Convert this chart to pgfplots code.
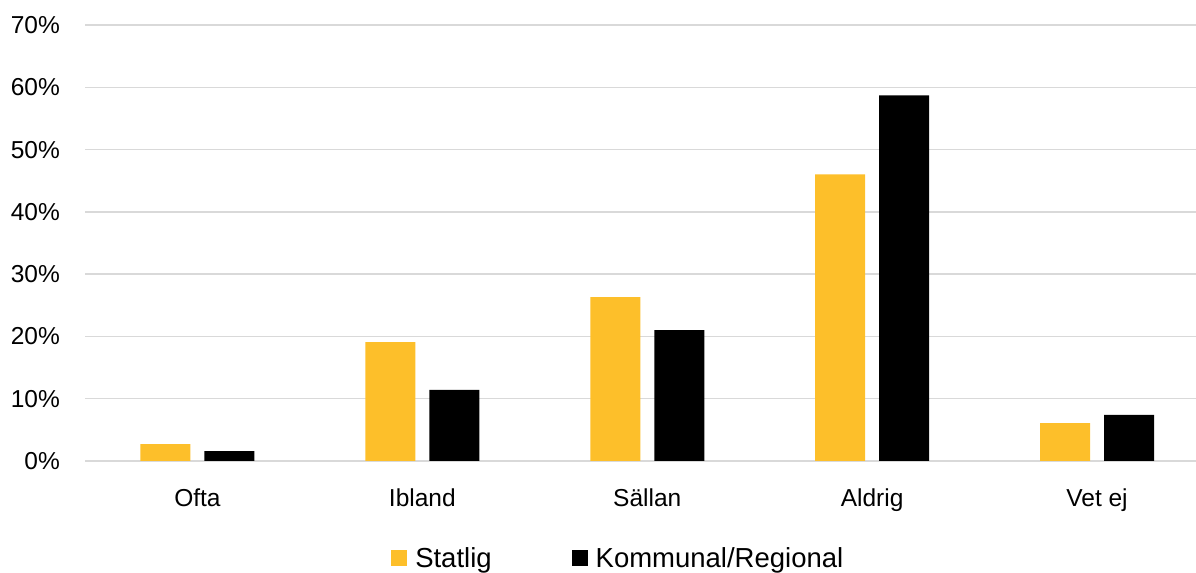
\documentclass[border=0pt]{standalone}
\usepackage{pgfplots}
\pgfplotsset{compat=1.18}
\usepackage{fontspec}
\setmainfont{Liberation Sans}
\definecolor{statlig}{HTML}{FDBF2A}
\definecolor{gridgray}{HTML}{D9D9D9}

\begin{document}
\begin{tikzpicture}
\begin{axis}[
  scale only axis, width=1111bp, height=436bp,
  ybar=14bp, bar width=50bp,
  xmin=-0.5, xmax=4.44, ymin=0, ymax=70,
  xtick={0,1,2,3,4},
  xticklabels={Ofta, Ibland, Sällan, Aldrig, Vet ej},
  ytick={0,10,...,70},
  yticklabel={\pgfmathprintnumber{\tick}\%},
  /pgf/number format/assume math mode=true,
  ymajorgrids, grid style={gridgray, line width=1.5bp},
  axis line style={draw=none}, major tick length=0,
  tick label style={font=\fontsize{24.5bp}{28bp}\selectfont},
  yticklabel style={anchor=east, inner sep=0pt, xshift=-25bp},
  xticklabel style={anchor=north, inner sep=0pt, yshift=-28bp},
  legend columns=2,
  legend style={draw=none, font=\fontsize{27.5bp}{32bp}\selectfont,
    at={(0.48,-0.222)}, anchor=center,
    /tikz/every even column/.append style={column sep=78bp}},
  legend image code/.code={\fill[#1] (0bp,-8bp) rectangle (16bp,8bp); \path (22bp,0bp);},
]
\addplot[fill=statlig, draw=none] coordinates {(0,2.7) (1,19.1) (2,26.3) (3,46.0) (4,6.1)};
\addplot[fill=black, draw=none] coordinates {(0,1.6) (1,11.4) (2,21.0) (3,58.7) (4,7.4)};
\legend{Statlig, Kommunal/Regional}
\end{axis}
\pgfresetboundingbox
\path[use as bounding box] ([shift={(-85bp,-112bp)}]current axis.south west) rectangle ([shift={(0bp,25bp)}]current axis.north east);
\end{tikzpicture}
\end{document}
